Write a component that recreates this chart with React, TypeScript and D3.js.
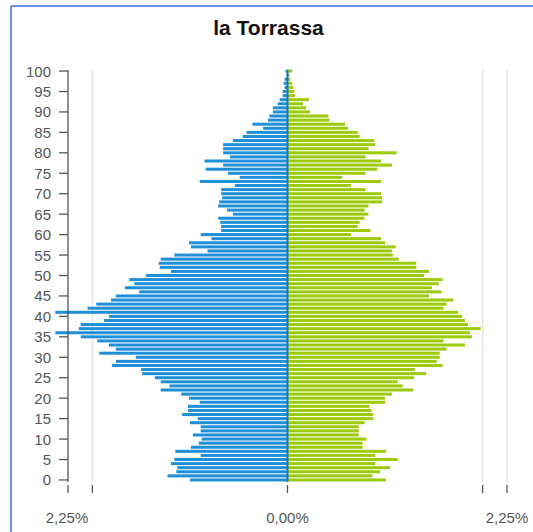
import React from "react";
import * as d3 from "d3";

const title = "la Torrassa";
// age 0..100, percentage of population
const male = [
  1.0, 1.23, 1.14, 1.13, 1.195, 1.16, 0.89, 1.15, 0.99, 0.91,
  0.88, 0.97, 0.89, 0.89, 1.0, 0.92, 1.08, 1.02, 1.02, 0.9,
  1.01, 1.09, 1.3, 1.21, 1.3, 1.36, 1.49, 1.5, 1.8, 1.76,
  1.555, 1.93, 1.76, 1.83, 1.95, 2.12, 2.38, 2.14, 2.12, 1.88,
  1.83, 2.38, 2.05, 1.96, 1.81, 1.76, 1.52, 1.665, 1.57, 1.62,
  1.45, 1.195, 1.31, 1.32, 1.3, 1.16, 0.82, 0.99, 1.01, 0.78,
  0.89, 0.68, 0.68, 0.69, 0.71, 0.56, 0.62, 0.71, 0.7, 0.67,
  0.68, 0.68, 0.54, 0.9, 0.49, 0.61, 0.84, 0.66, 0.85, 0.59,
  0.66, 0.66, 0.66, 0.56, 0.46, 0.42, 0.25, 0.36, 0.2, 0.185,
  0.15, 0.15, 0.1, 0.08, 0.05, 0.05, 0.03, 0.04, 0.03, 0.01,
  0.02,
];
const female = [
  1.01, 0.87, 0.95, 1.05, 0.9, 1.13, 0.9, 1.01, 0.77, 0.77,
  0.81, 0.73, 0.73, 0.73, 0.79, 0.88, 0.88, 0.86, 0.84, 1.0,
  1.0, 1.07, 1.29, 1.18, 1.13, 1.295, 1.42, 1.305, 1.59, 1.53,
  1.56, 1.56, 1.63, 1.82, 1.6, 1.89, 1.87, 1.98, 1.85, 1.82,
  1.79, 1.75, 1.6, 1.63, 1.7, 1.45, 1.58, 1.48, 1.55, 1.59,
  1.4, 1.45, 1.32, 1.32, 1.14, 1.08, 1.07, 1.11, 1.0, 0.96,
  0.65, 0.85, 0.72, 0.74, 0.79, 0.83, 0.79, 0.83, 0.97, 0.97,
  0.96, 0.8, 0.65, 0.96, 0.56, 0.8, 0.92, 1.07, 0.96, 0.8,
  1.12, 0.83, 0.9, 0.89, 0.74, 0.72, 0.62, 0.59, 0.43, 0.42,
  0.23, 0.19, 0.16, 0.22, 0.08, 0.07, 0.06, 0.05, 0.03, 0.02,
  0.05,
];
const ageTicks = [0, 5, 10, 15, 20, 25, 30, 35, 40, 45, 50, 55, 60, 65, 70, 75, 80, 85, 90, 95, 100];
const xTickValues = [-2.25, -2, 0, 2, 2.25];
const xTickLabels = [
  { v: -2.25, t: "2,25%" },
  { v: 0, t: "0,00%" },
  { v: 2.25, t: "2,25%" },
];
const gridValues = [-2, 2, 2.25];

export default function App() {
  const W = 533;
  const H = 532;
  const ages = male.map((_, i) => i);
  const x = d3.scaleLinear().domain([-2.25, 2.25]).range([68, 507]);
  const y = d3
    .scaleBand<number>()
    .domain([...ages].reverse())
    .range([69, 482])
    .paddingInner(0.26)
    .paddingOuter(0.13);
  const bh = y.bandwidth();
  const cy = (a: number) => (y(a) as number) + bh / 2;
  const font = "'Liberation Sans', Arial, sans-serif";
  const axisTop = 70;
  const axisBottom = 482;

  return (
    <svg
      width={W}
      height={H}
      style={{ position: "absolute", left: 0, top: 0, background: "#fff" }}
    >
      <rect x={0} y={0} width={W} height={H} fill="#fff" />
      <line x1={11} y1={6} x2={W} y2={6} stroke="#3b6ef0" strokeWidth={1.5} />
      <line x1={11} y1={6} x2={11} y2={H} stroke="#3b6ef0" strokeWidth={1.5} />

      <text
        x={268.5}
        y={35}
        textAnchor="middle"
        fontFamily={font}
        fontWeight="bold"
        fontSize={21}
        fill="#111"
      >
        {title}
      </text>

      {gridValues.map((g) => (
        <line
          key={"g" + g}
          x1={x(g)}
          x2={x(g)}
          y1={axisTop}
          y2={axisBottom}
          stroke="#e4e4e4"
          strokeWidth={1.5}
        />
      ))}

      {ages.map((a) => (
        <rect
          key={"m" + a}
          x={x(-male[a])}
          y={y(a)}
          width={x(0) - x(-male[a])}
          height={bh}
          fill="#1f8fd8"
        />
      ))}
      {ages.map((a) => (
        <rect
          key={"f" + a}
          x={x(0)}
          y={y(a)}
          width={x(female[a]) - x(0)}
          height={bh}
          fill="#9ccb0c"
        />
      ))}
      <line
        x1={x(0)}
        x2={x(0)}
        y1={axisTop}
        y2={axisBottom}
        stroke="#1d74b8"
        strokeWidth={2}
      />

      {/* y axis */}
      <line x1={68} x2={68} y1={axisTop} y2={axisBottom} stroke="#555" strokeWidth={1.3} />
      {ageTicks.map((a) => (
        <g key={"t" + a}>
          <line x1={59} x2={68} y1={cy(a)} y2={cy(a)} stroke="#555" strokeWidth={1.3} />
          <text
            x={51}
            y={cy(a) + 5.5}
            textAnchor="end"
            fontFamily={font}
            fontSize={15}
            fill="#555"
          >
            {a}
          </text>
        </g>
      ))}

      {/* x axis ticks */}
      {xTickValues.map((v) => (
        <line
          key={"xt" + v}
          x1={x(v)}
          x2={x(v)}
          y1={485}
          y2={493}
          stroke="#555"
          strokeWidth={1.3}
        />
      ))}
      {xTickLabels.map((l, i) => (
        <text
          key={"xl" + i}
          x={x(l.v) - (l.v < 0 ? 1 : 0)}
          y={523}
          textAnchor="middle"
          fontFamily={font}
          fontSize={15}
          fill="#555"
        >
          {l.t}
        </text>
      ))}
    </svg>
  );
}
